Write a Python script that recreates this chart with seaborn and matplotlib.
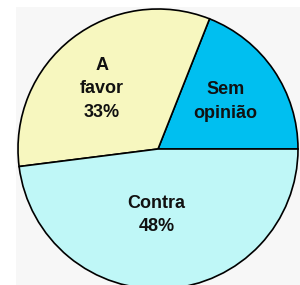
import matplotlib
matplotlib.use("Agg")
import matplotlib.pyplot as plt
import seaborn as sns

sns.set_theme(style="white")
plt.rcParams['font.family'] = ['Liberation Sans', 'DejaVu Sans']

labels = ["Sem\nopinião", "A\nfavor\n33%", "Contra\n48%"]
values = [19, 33, 48]
colors = ["#00bff0", "#f7f7bf", "#bff7f7"]

fig = plt.figure(figsize=(3.0, 2.85), dpi=100)
fig.patch.set_facecolor("white")

# light grey panel behind the pie
bg = fig.add_axes([16 / 300, 0, 1 - 16 / 300, 1 - 7 / 285], zorder=0)
bg.set_facecolor("#f7f7f7")
bg.set_xticks([])
bg.set_yticks([])
for s in bg.spines.values():
    s.set_visible(False)

ax = fig.add_axes([0, 0, 1, 1], zorder=1)
ax.set_facecolor("none")
wedges, _ = ax.pie(values, colors=colors, startangle=0, counterclock=True,
                   wedgeprops=dict(edgecolor="black", linewidth=1.2))

# label positions in data units (radius 1 = 140 px)
label_pos = [(0.48, 0.34), (-0.40, 0.43), (-0.01, -0.47)]
for lab, (x, y) in zip(labels, label_pos):
    ax.text(x, y, lab, ha="center", va="center", fontsize=13,
            fontweight="bold", color="#111111", linespacing=1.5)

ax.set_xlim(-158 / 140, 142 / 140)
ax.set_ylim(-136 / 140, 149 / 140)
ax.set_aspect("auto")
ax.axis("off")

fig.savefig("out.png", dpi=100)
